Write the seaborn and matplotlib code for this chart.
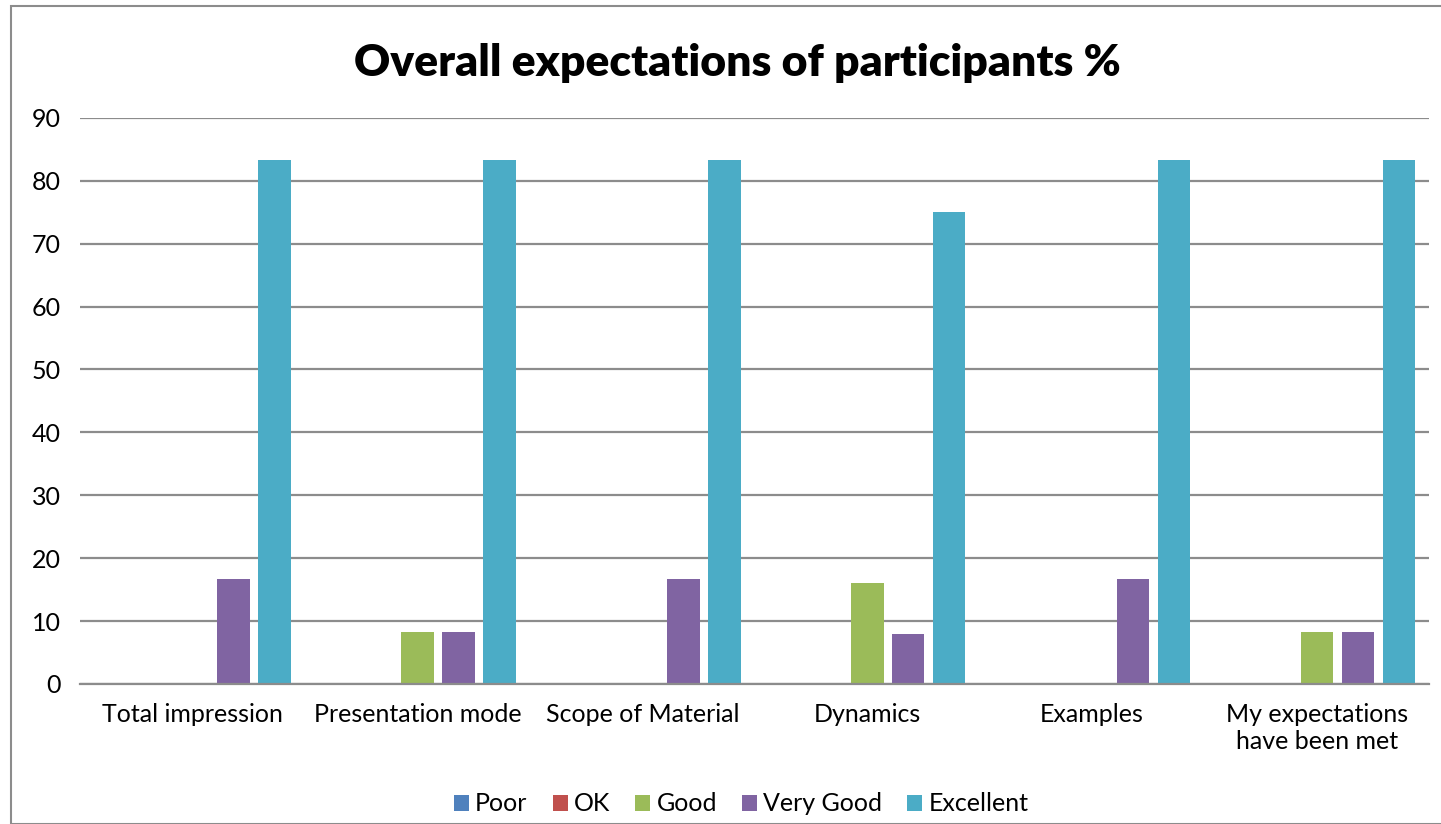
import pandas as pd
import matplotlib.pyplot as plt
import seaborn as sns
from matplotlib.patches import Rectangle

# Datos
categorias = ['Total impression', 'Presentation mode', 'Scope of Material',
              'Dynamics', 'Examples', 'My expectations\nhave been met']
series = ['Poor', 'OK', 'Good', 'Very Good', 'Excellent']
poor = [0, 0, 0, 0, 0, 0]
ok = [0, 0, 0, 0, 0, 0]
good = [0, 8.33, 0, 16, 0, 8.33]
very_good = [16.67, 8.33, 16.67, 8, 16.67, 8.33]
excellent = [83.33, 83.33, 83.33, 75, 83.33, 83.33]
colores = ['#4F81BD', '#C0504D', '#9BBB59', '#8064A2', '#4BACC6']

# Tabla larga para seaborn
filas = []
for nombre, valores in zip(series, [poor, ok, good, very_good, excellent]):
    for cat, v in zip(categorias, valores):
        filas.append({'Categoria': cat, 'Serie': nombre, 'Valor': v})
datos = pd.DataFrame(filas)

sns.set_style('white')
plt.rcParams['font.family'] = ['Lato', 'DejaVu Sans']
plt.rcParams['text.color'] = 'black'
plt.rcParams['xtick.color'] = 'black'
plt.rcParams['ytick.color'] = 'black'

fig = plt.figure(figsize=(14.41, 8.24), dpi=100)
ax = fig.add_axes([0.0555, 0.170, 0.9365, 0.687])

sns.barplot(data=datos, x='Categoria', y='Valor', hue='Serie',
            hue_order=series, order=categorias, palette=colores,
            width=0.91, gap=0.2, ax=ax, legend=True, saturation=1,
            edgecolor='none')

ax.set_ylim(0, 90)
ax.set_yticks(range(0, 91, 10))
ax.set_xlim(-0.5, 5.5)
ax.grid(axis='y', color='#8C8C8C', linewidth=1.6)
ax.set_axisbelow(True)
for lado in ['left', 'right', 'top']:
    ax.spines[lado].set_visible(False)
ax.spines['bottom'].set_color('#8C8C8C')
ax.spines['bottom'].set_linewidth(1.6)
ax.tick_params(axis='both', length=0, labelsize=18)
ax.tick_params(axis='x', pad=14)
ax.tick_params(axis='y', pad=14)
ax.set_xlabel('')
ax.set_ylabel('')

fig.suptitle('Overall expectations of participants %', fontsize=32,
             fontweight='heavy', y=0.948, x=0.512)

ax.legend(loc='upper center', bbox_to_anchor=(0.49, -0.152), ncol=5,
          frameon=False, fontsize=18, handlelength=0.6, handleheight=0.6,
          handletextpad=0.25, columnspacing=1.0)

# Borde del grafico
fig.patches.append(Rectangle((11 / 1441, 0), 1.2, 1 - 6 / 824,
                             transform=fig.transFigure, fill=False,
                             edgecolor='#8C8C8C', linewidth=1.5))

plt.savefig('out.png', dpi=100)
